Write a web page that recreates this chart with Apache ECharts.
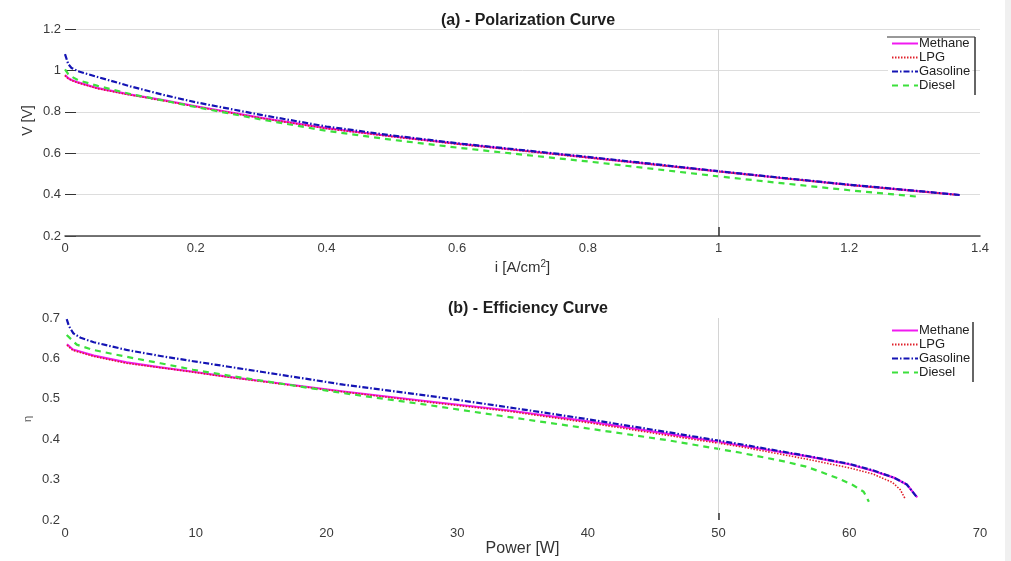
<!DOCTYPE html>
<html>
<head>
<meta charset="utf-8">
<script src="https://cdn.jsdelivr.net/npm/echarts@6/dist/echarts.min.js"></script>
<style>
  html, body { margin: 0; padding: 0; background: #f0f0f0; }
  #chart { width: 1005px; height: 561px; background: #ffffff; }
</style>
</head>
<body>
<div id="chart"></div>
<script>
// Polarization curves: [current density A/cm², cell voltage V]
const polMethane = [
  [0, 0.978], [0.005, 0.962], [0.01, 0.954], [0.02, 0.942], [0.05, 0.914],
  [0.1, 0.883], [0.15, 0.856], [0.2, 0.827], [0.3, 0.771], [0.4, 0.721],
  [0.5, 0.682], [0.6, 0.646], [0.7, 0.613], [0.8, 0.580], [0.9, 0.546],
  [1.0, 0.512], [1.1, 0.479], [1.2, 0.447], [1.3, 0.418], [1.369, 0.398]
];
const polLPG = [
  [0, 0.975], [0.005, 0.960], [0.01, 0.952], [0.02, 0.940], [0.05, 0.912],
  [0.1, 0.881], [0.15, 0.854], [0.2, 0.825], [0.3, 0.769], [0.4, 0.719],
  [0.5, 0.680], [0.6, 0.644], [0.7, 0.611], [0.8, 0.578], [0.9, 0.545],
  [1.0, 0.511], [1.1, 0.478], [1.2, 0.446], [1.3, 0.417], [1.366, 0.398]
];
const polGasoline = [
  [0, 1.079], [0.005, 1.030], [0.01, 1.012], [0.02, 0.996], [0.05, 0.968],
  [0.1, 0.923], [0.15, 0.882], [0.2, 0.846], [0.3, 0.785], [0.4, 0.729],
  [0.5, 0.686], [0.6, 0.648], [0.7, 0.615], [0.8, 0.582], [0.9, 0.548],
  [1.0, 0.513], [1.1, 0.480], [1.2, 0.448], [1.3, 0.419], [1.369, 0.398]
];
const polDiesel = [
  [0, 1.005], [0.005, 0.982], [0.01, 0.970], [0.02, 0.953], [0.05, 0.925],
  [0.1, 0.886], [0.15, 0.855], [0.2, 0.823], [0.3, 0.763], [0.4, 0.708],
  [0.5, 0.665], [0.6, 0.627], [0.7, 0.593], [0.8, 0.560], [0.9, 0.524],
  [1.0, 0.488], [1.1, 0.454], [1.2, 0.421], [1.308, 0.389]
];

// Efficiency curves: [power W, efficiency]
const effMethane = [
  [0.15, 0.635], [0.6, 0.622], [2.2, 0.607], [4.7, 0.590], [7.3, 0.578],
  [9.8, 0.567], [12.4, 0.555], [15, 0.544], [21.3, 0.518], [27.7, 0.494],
  [34, 0.471], [40, 0.444], [46, 0.414], [51.6, 0.385], [56.7, 0.358],
  [60, 0.338], [61.8, 0.322], [63.4, 0.305], [64.4, 0.288], [65.2, 0.256]
];
const effLPG = [
  [0.15, 0.633], [0.6, 0.620], [2.2, 0.605], [4.7, 0.588], [7.3, 0.577],
  [9.8, 0.566], [12.4, 0.554], [15, 0.543], [21.3, 0.517], [27.7, 0.492],
  [34, 0.469], [40, 0.441], [46, 0.410], [51.6, 0.382], [56.7, 0.351],
  [60, 0.329], [61.8, 0.314], [63.3, 0.293], [63.9, 0.275], [64.3, 0.251]
];
const effGasoline = [
  [0.13, 0.697], [0.3, 0.680], [0.64, 0.662], [1.2, 0.651], [2.2, 0.640],
  [4.7, 0.621], [7.3, 0.606], [9.8, 0.593], [12.4, 0.580], [15, 0.567],
  [21.3, 0.535], [27.7, 0.508], [33.3, 0.482], [39.7, 0.451], [46, 0.418],
  [51.6, 0.388], [56.7, 0.359], [60, 0.339], [61.8, 0.323], [63.4, 0.305],
  [64.4, 0.288], [65.2, 0.255]
];
const effDiesel = [
  [0.13, 0.658], [0.9, 0.634], [2.15, 0.621], [4.7, 0.604], [7.3, 0.588],
  [9.8, 0.572], [12.4, 0.558], [15, 0.545], [21.3, 0.514], [27.7, 0.485],
  [33.3, 0.458], [39.7, 0.428], [46, 0.398], [51.6, 0.367], [55, 0.345],
  [56.7, 0.332], [58, 0.317], [59.3, 0.301], [60.3, 0.286], [61.1, 0.270],
  [61.5, 0.245]
];

const fuelNames = ['Methane', 'LPG', 'Gasoline', 'Diesel'];
const polTicksX = { min: 0, max: 1.4, interval: 0.2 };
const polTicksY = { min: 0.2, max: 1.2, interval: 0.2 };
const effTicksX = { min: 0, max: 70, interval: 10 };
const effTicksY = { min: 0.2, max: 0.7, interval: 0.1 };

const FONT = '"Liberation Sans", Arial, sans-serif';
const fuelStyles = {
  Methane:  { color: '#f01af0', width: 2.2, type: 'solid' },
  LPG:      { color: '#e0202a', width: 1.6, type: [1.5, 1.5] },
  Gasoline: { color: '#1414b4', width: 2.2, type: [6, 2, 1.5, 2] },
  Diesel:   { color: '#3ce03c', width: 2.2, type: [6, 5] }
};

function lineSeries(name, data, axisIdx, gridLineAt) {
  const st = fuelStyles[name];
  const s = {
    name: name,
    type: 'line',
    xAxisIndex: axisIdx,
    yAxisIndex: axisIdx,
    data: data,
    symbol: 'none',
    smooth: false,
    color: st.color,
    lineStyle: { color: st.color, width: st.width, type: st.type, join: 'round' },
    z: name === 'Methane' ? 3 : 4
  };
  if (gridLineAt !== undefined) {
    s.markLine = {
      silent: true,
      symbol: 'none',
      label: { show: false },
      lineStyle: { color: '#d4d4d4', width: 1, type: 'solid' },
      data: [{ xAxis: gridLineAt }]
    };
  }
  return s;
}

const axisLabelStyle = { color: '#3a3a3a', fontSize: 13, fontFamily: FONT };
const legendBase = {
  data: fuelNames, orient: 'vertical', itemGap: 1,
  itemWidth: 26, itemHeight: 13, padding: [1, 2, 1, 3],
  backgroundColor: '#ffffff',
  itemStyle: { opacity: 0 },
  textStyle: { fontSize: 13, color: '#222', fontFamily: FONT, padding: [0, 0, 0, -4] }
};

const chart = echarts.init(document.getElementById('chart'));
chart.setOption({
  animation: false,
  backgroundColor: '#ffffff',
  textStyle: { fontFamily: FONT },
  title: [
    { text: '(a) - Polarization Curve', left: 523, top: 8, textAlign: 'center',
      textStyle: { fontSize: 16, fontWeight: 'bold', color: '#1e1e1e', fontFamily: FONT } },
    { text: '(b) - Efficiency Curve', left: 523, top: 296, textAlign: 'center',
      textStyle: { fontSize: 16, fontWeight: 'bold', color: '#1e1e1e', fontFamily: FONT } }
  ],
  legend: [
    Object.assign({ left: 888, top: 36 }, legendBase),
    Object.assign({ left: 888, top: 323 }, legendBase)
  ],
  graphic: [
    { type: 'line', shape: { x1: 887, y1: 37, x2: 975, y2: 37 }, style: { stroke: '#333', lineWidth: 1 }, z: 100 },
    { type: 'line', shape: { x1: 975, y1: 37, x2: 975, y2: 95 }, style: { stroke: '#333', lineWidth: 1.5 }, z: 100 },
    { type: 'line', shape: { x1: 973, y1: 322, x2: 973, y2: 382 }, style: { stroke: '#333', lineWidth: 1.5 }, z: 100 }
  ],
  grid: [
    { left: 65, right: 25, top: 29, height: 207 },
    { left: 65, right: 25, top: 318, height: 202 }
  ],
  xAxis: [
    { type: 'value', gridIndex: 0, min: polTicksX.min, max: polTicksX.max, interval: polTicksX.interval,
      z: 10,
      name: 'i [A/cm{sup|2}]', nameLocation: 'middle', nameGap: 23, nameMoveOverlap: false,
      nameTextStyle: { fontSize: 15, color: '#333', fontFamily: FONT,
        rich: { sup: { fontSize: 10, color: '#333', fontFamily: FONT, verticalAlign: 'top', padding: [0, 0, 8, 0] } } },
      axisLine: { show: true, lineStyle: { color: '#4a4a4a', width: 1.5 } },
      axisTick: { show: true, inside: true, length: 9, customValues: [1], lineStyle: { color: '#333', width: 1.5 } },
      axisLabel: Object.assign({ margin: 6 }, axisLabelStyle),
      splitLine: { show: false } },
    { type: 'value', gridIndex: 1, min: effTicksX.min, max: effTicksX.max, interval: effTicksX.interval,
      z: 10,
      name: 'Power [W]', nameLocation: 'middle', nameGap: 21, nameMoveOverlap: false,
      nameTextStyle: { fontSize: 16, color: '#333', fontFamily: FONT },
      axisLine: { show: false },
      axisTick: { show: true, inside: true, length: 7, customValues: [50], lineStyle: { color: '#333', width: 1.5 } },
      axisLabel: Object.assign({ margin: 7 }, axisLabelStyle),
      splitLine: { show: false } }
  ],
  yAxis: [
    { type: 'value', gridIndex: 0, min: polTicksY.min, max: polTicksY.max, interval: polTicksY.interval,
      name: 'V [V]', nameLocation: 'middle', nameGap: 30, nameMoveOverlap: false,
      nameTextStyle: { fontSize: 14, color: '#333', fontFamily: FONT, padding: [0, 0, 0, 24] },
      axisLine: { show: false },
      axisTick: { show: true, inside: true, length: 11, lineStyle: { color: '#333' } },
      axisLabel: Object.assign({ margin: 4 }, axisLabelStyle),
      splitLine: { show: true, lineStyle: { color: '#dddddd', width: 1 } } },
    { type: 'value', gridIndex: 1, min: effTicksY.min, max: effTicksY.max, interval: effTicksY.interval,
      name: 'η', nameLocation: 'middle', nameGap: 32, nameMoveOverlap: false,
      nameTextStyle: { fontSize: 11, color: '#555', fontFamily: FONT },
      axisLine: { show: false },
      axisTick: { show: false },
      axisLabel: Object.assign({ margin: 5 }, axisLabelStyle),
      splitLine: { show: false } }
  ],
  series: [
    lineSeries('Methane', polMethane, 0, 1),
    lineSeries('LPG', polLPG, 0),
    lineSeries('Gasoline', polGasoline, 0),
    lineSeries('Diesel', polDiesel, 0),
    lineSeries('Methane', effMethane, 1, 50),
    lineSeries('LPG', effLPG, 1),
    lineSeries('Gasoline', effGasoline, 1),
    lineSeries('Diesel', effDiesel, 1)
  ]
});
</script>
</body>
</html>
